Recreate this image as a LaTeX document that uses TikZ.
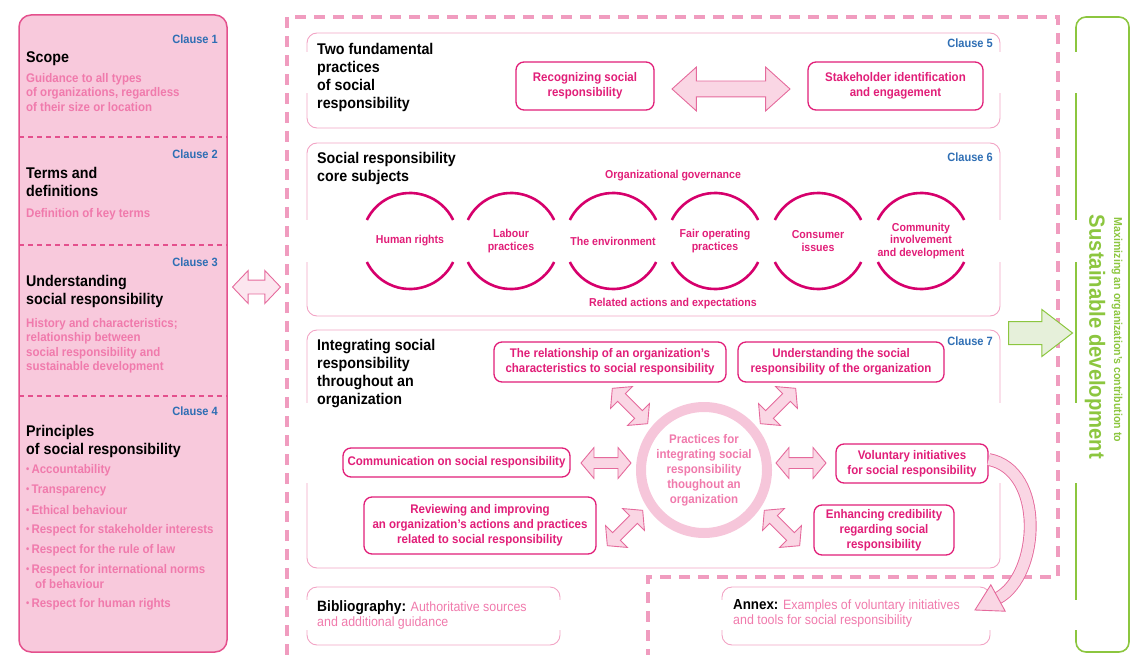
\documentclass[tikz,border=0pt]{standalone}
\usepackage{fontspec}
\setmainfont{Liberation Sans}[FakeStretch=0.92]
\usetikzlibrary{shapes.arrows,calc}
\definecolor{panelfill}{HTML}{F8C9DC}
\definecolor{panelline}{HTML}{E4508D}
\definecolor{clauseblue}{HTML}{2E6EB4}
\definecolor{descpink}{HTML}{F07AAC}
\definecolor{mag}{HTML}{E11E78}
\definecolor{arcmag}{HTML}{D6006C}
\definecolor{softpink}{HTML}{F2A3C4}
\definecolor{dashpink}{HTML}{F09CBF}
\definecolor{ringpink}{HTML}{F6C6DA}
\definecolor{arrowfill}{HTML}{FAD6E4}
\definecolor{arrowline}{HTML}{E56A9C}
\definecolor{sdgreen}{HTML}{8CC63F}
\definecolor{sdfill}{HTML}{E6F0DA}
\tikzset{
  clause/.style={anchor=north east, inner sep=0pt, text=clauseblue, font=\bfseries\fontsize{12}{13}\selectfont},
  heading/.style={anchor=north west, inner sep=0pt, align=left, font=\bfseries\fontsize{15.5}{18}\selectfont},
  desc/.style={anchor=north west, inner sep=0pt, align=left, text=descpink, font=\bfseries\fontsize{12.5}{14.5}\selectfont},
  topic/.style={draw=mag, line width=1.3pt, rounded corners=8pt, fill=white, text=mag, align=center, inner sep=0pt, font=\bfseries\fontsize{12.5}{15}\selectfont},
  subject/.style={text=mag, align=center, inner sep=0pt, font=\bfseries\fontsize{11.5}{12.2}\selectfont},
  band/.style={draw=softpink, line width=0.9pt, rounded corners=10pt},
  twoway/.style={double arrow, draw=arrowline, fill=arrowfill, line width=0.9pt, inner xsep=0pt, double arrow head indent=0pt},
  smallway/.style={twoway, minimum height=50pt, inner ysep=5pt, double arrow head extend=10pt, double arrow tip angle=100},
  arcline/.style={arcmag, line width=2.6pt}
}
\begin{document}
\begin{tikzpicture}[x=1pt,y=-1pt]
\useasboundingbox (0,0) rectangle (1134,655);

% clauses 1 to 4
\draw[fill=panelfill, draw=panelline, line width=1.5pt, rounded corners=12pt] (19,15) rectangle (227,652);
\foreach \y in {137,245,396}
  \draw[panelline, line width=1.2pt, dash pattern=on 5pt off 4pt] (19,\y) -- (227,\y);
\node[clause] (cl1) at (218,35) {Clause 1};
\node[heading] (scope) at (26,51) {Scope};
\node[desc] (scoped) at (26,73) {Guidance to all types\\of organizations, regardless\\of their size or location};
\node[clause] (cl2) at (218,150) {Clause 2};
\node[heading] (terms) at (26,167) {Terms and\\definitions};
\node[desc] (termsd) at (26,208) {Definition of key terms};
\node[clause] (cl3) at (218,258) {Clause 3};
\node[heading] (under) at (26,275) {Understanding\\social responsibility};
\node[desc] (underd) at (26,318) {History and characteristics;\\relationship between\\social responsibility and\\sustainable development};
\node[clause] (cl4) at (218,407) {Clause 4};
\node[heading] (princ) at (26,425) {Principles\\of social responsibility};
\foreach \y/\t [count=\i] in {470/Accountability, 490/Transparency, 510/Ethical behaviour,
    530/Respect for stakeholder interests, 550/Respect for the rule of law,
    570/Respect for international norms, 604/Respect for human rights}
  \node[desc, anchor=west] (pr\i) at (26,\y) {\raisebox{1pt}{\fontsize{10}{10}\selectfont\textbullet}\,\t};
\node[desc, anchor=west] (pr6b) at (35,584) {of behaviour};

\node[twoway, minimum height=48pt, inner ysep=6.5pt, double arrow head extend=9.5pt,
      double arrow tip angle=93, fill=arrowfill!60] (a0) at (256.5,287) {};

% frames
\draw[dashpink, line width=3.5pt, dash pattern=on 11pt off 8pt]
  (287,655) -- (287,17) -- (1058,17) -- (1058,577) -- (648,577) -- (648,655);
\draw[band] (307,33) rectangle (1000,128);
\draw[band] (307,143) rectangle (1000,316);
\draw[band] (307,330) rectangle (1000,568);
\draw[band] (307,587) rectangle (560,645);
\draw[band] (722,587) rectangle (990,645);
\draw[sdgreen, line width=1.6pt, rounded corners=10pt] (1076,17) rectangle (1129,652);
\foreach \x in {307,1000,1076}
  \foreach \a/\b in {52/93,220/262,403/483}
    \fill[white] (\x-2,\a) rectangle (\x+2,\b);
\foreach \x in {307,560,722,990,1076}
  \fill[white] (\x-2,600) rectangle (\x+2,630);

% clause 5
\node[clause] (cl5) at (993,39) {Clause 5};
\node[heading] (two) at (317,43) {Two fundamental\\practices\\of social\\responsibility};
\node[topic, minimum width=138pt, minimum height=48pt] (recog) at (585,86) {Recognizing social\\responsibility};
\node[topic, minimum width=175pt, minimum height=48pt] (stake) at (895.5,86) {Stakeholder identification\\and engagement};
\node[twoway, minimum height=118pt, inner ysep=7.5pt, double arrow head extend=14pt,
      double arrow tip angle=84] (a1) at ($(recog.east)!0.5!(stake.west)+(0,3)$) {};

% clause 6
\node[clause] (cl6) at (993,153) {Clause 6};
\node[heading] (core) at (317,152) {Social responsibility\\core subjects};
\node[subject] (gov) at (673,176) {Organizational governance};
\node[subject] (rel) at (673,304) {Related actions and expectations};
\foreach \x/\t [count=\i] in {410/Human rights, 511/{Labour\\practices}, 613/The environment,
    715/{Fair operating\\practices}, 818/{Consumer\\issues}, 921/{Community\\involvement\\and development}} {
  \draw[arcline] (\x,241) ++(-26:48) arc[start angle=-26, end angle=-154, radius=48];
  \draw[arcline] (\x,241) ++(26:48) arc[start angle=26, end angle=154, radius=48];
  \node[subject] (cs\i) at (\x,241) {\t};
}

% clause 7
\node[clause] (cl7) at (993,337) {Clause 7};
\node[heading] (integ) at (317,339) {Integrating social\\responsibility\\throughout an\\organization};
\node[circle, draw=ringpink, line width=10pt, minimum size=126pt, inner sep=0pt, text=descpink,
      align=center, font=\bfseries\fontsize{12.5}{15}\selectfont] (prac) at (704,470)
  {Practices for\\integrating social\\responsibility\\thoughout an\\organization};
\node[topic, minimum width=232pt, minimum height=40pt] (relat) at (610,362) {The relationship of an organization’s\\characteristics to social responsibility};
\node[topic, minimum width=206pt, minimum height=40pt] (usr) at (841,362) {Understanding the social\\responsibility of the organization};
\node[topic, minimum width=227pt, minimum height=29pt] (comm) at (456.5,462.5) {Communication on social responsibility};
\node[topic, minimum width=232pt, minimum height=57pt] (review) at (480,525.5) {Reviewing and improving\\an organization’s actions and practices\\related to social responsibility};
\node[topic, minimum width=152pt, minimum height=39pt] (volun) at (912,463.5) {Voluntary initiatives\\for social responsibility};
\node[topic, minimum width=140pt, minimum height=50pt] (cred) at (884,530) {Enhancing credibility\\regarding social\\responsibility};
\node[smallway] (a2) at (606,463) {};
\node[smallway] (a3) at (801,463) {};
\node[smallway, rotate=-45] (a4) at (630,406) {};
\node[smallway, rotate=45] (a5) at (778,406) {};
\node[smallway, rotate=45] (a6) at (625,528) {};
\node[smallway, rotate=-45] (a7) at (782,528) {};

% bibliography and annex
\node[anchor=north west, inner sep=0pt, align=left, text=descpink, font=\fontsize{13.5}{15}\selectfont] (biblio) at (317,600)
  {{\color{black}\bfseries\fontsize{15}{15}\selectfont Bibliography:} Authoritative sources\\and additional guidance};
\node[anchor=north west, inner sep=0pt, align=left, text=descpink, font=\fontsize{13.5}{15}\selectfont] (annex) at (733,599)
  {{\color{black}\bfseries\fontsize{14.5}{15}\selectfont Annex:} Examples of voluntary initiatives\\and tools for social responsibility};
\coordinate (bend) at (998,598);
\draw[arrowline, line width=0.9pt, double=arrowfill, double distance=11pt]
  ([yshift=4pt]volun.east) .. controls (1045,470) and (1040,575) .. (bend);
\draw[arrowline, fill=arrowfill, line width=0.9pt] (990.8,584.8) -- (975,610) -- (1005.2,611.2) -- cycle;

% sustainable development
\node[single arrow, draw=sdgreen, fill=sdfill, line width=1pt, minimum height=64pt, inner xsep=0pt, inner ysep=11pt,
      single arrow head extend=12pt, single arrow tip angle=75] (tosd) at (1033,333) {};
\node[rotate=-90, text=sdgreen, inner sep=0pt, font=\bfseries\fontsize{22}{22}\selectfont] (sd) at (1095,337) {Sustainable development};
\node[rotate=-90, text=sdgreen, inner sep=0pt, font=\bfseries\fontsize{11.5}{12}\selectfont] (maxi) at (1117,330) {Maximizing an organization’s contribution to};
\end{tikzpicture}
\end{document}
